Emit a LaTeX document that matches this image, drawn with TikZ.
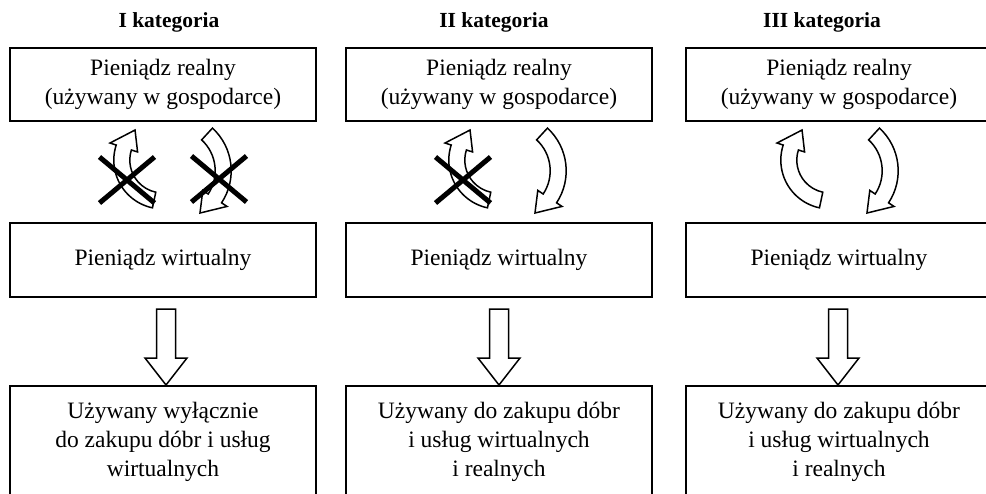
\documentclass[tikz,border=0pt]{standalone}
\usepackage{fontspec}
\setmainfont{Liberation Serif}
\usetikzlibrary{calc}
\newcommand\carrow[5]{%
 \pgfmathsetmacro\cdir{ifthenelse(#5>#4,1,-1)}%
 \pgfmathsetmacro\hb{#5-\cdir*21/#3*57.2958}%
 \pgfmathsetmacro\ro{#3+8}\pgfmathsetmacro\ri{#3-8}%
 \pgfmathsetmacro\hoo{#3+14.5}\pgfmathsetmacro\hii{#3-14.5}%
 \draw[blockarrow] ($(#1,#2)+(#4:\ro)$) arc[start angle=#4, end angle=\hb, radius=\ro]
   -- ($(#1,#2)+(\hb:\hoo)$) -- ($(#1,#2)+(#5:#3)$) -- ($(#1,#2)+(\hb:\hii)$)
   -- ($(#1,#2)+(\hb:\ri)$) arc[start angle=\hb, end angle=#4, radius=\ri] -- cycle;}
\newcommand\xcross[2]{%
 \draw[crossline] ($(#1,#2)+(-27.5,-23)$) -- ($(#1,#2)+(27.5,23)$);
 \draw[crossline] ($(#1,#2)+(27.5,-23)$) -- ($(#1,#2)+(-27.5,23)$);}
\newcommand\blockdown[1]{%
 \draw[blockarrow] (#1-9.5,309) -- (#1+9.5,309) -- (#1+9.5,358) -- (#1+21,358) -- (#1,385) -- (#1-21,358) -- (#1-9.5,358) -- cycle;}
\begin{document}
\begin{tikzpicture}[x=1pt,y=-1pt,
  box/.style={draw, line width=1.6pt, minimum width=306pt, align=center,
    font=\fontsize{23.5}{29}\selectfont, inner sep=0pt},
  title/.style={font=\bfseries\fontsize{21.5}{25}\selectfont},
  blockarrow/.style={draw, line width=1.5pt, fill=white, line join=miter},
  crossline/.style={line width=5pt}]
\clip (0,0) rectangle (986,493);
\fill[white] (0,0) rectangle (986,493);
% titles
\node[title] (t1) at (169,22) {I kategoria};
\node[title] (t2) at (494,22) {II kategoria};
\node[title] (t3) at (822,22) {III kategoria};
% top boxes
\node[box, minimum height=73pt] (r1) at (163,84.5) {Pieniądz realny\\(używany w gospodarce)};
\node[box, minimum height=73pt] (r2) at (499,84.5) {Pieniądz realny\\(używany w gospodarce)};
\node[box, minimum height=73pt] (r3) at (839,84.5) {Pieniądz realny\\(używany w gospodarce)};
% middle boxes
\node[box, minimum height=74pt] (v1) at (163,260) {Pieniądz wirtualny};
\node[box, minimum height=74pt] (v2) at (499,260) {Pieniądz wirtualny};
\node[box, minimum height=74pt] (v3) at (839,260) {Pieniądz wirtualny};
% bottom boxes
\node[box, minimum height=112pt] (u1) at (163,442) {Używany wyłącznie\\do zakupu dóbr i usług\\wirtualnych};
\node[box, minimum height=112pt] (u2) at (499,442) {Używany do zakupu dóbr\\i usług wirtualnych\\i realnych};
\node[box, minimum height=112pt] (u3) at (839,442) {Używany do zakupu dóbr\\i usług wirtualnych\\i realnych};
% down arrows
\blockdown{166}
\blockdown{499}
\blockdown{838}
% curved arrows
\carrow{162.6}{160.1}{40.8}{102}{227.5}
\carrow{173.2}{170.8}{50}{-47.4}{57.6}
\carrow{497.6}{160.1}{40.8}{102}{227.5}
\carrow{508.2}{170.8}{50}{-47.4}{57.6}
\carrow{829.6}{160.1}{40.8}{102}{227.5}
\carrow{840.2}{170.8}{50}{-47.4}{57.6}
% crosses
\xcross{127}{180}
\xcross{219}{179}
\xcross{463}{180}
\end{tikzpicture}
\end{document}
